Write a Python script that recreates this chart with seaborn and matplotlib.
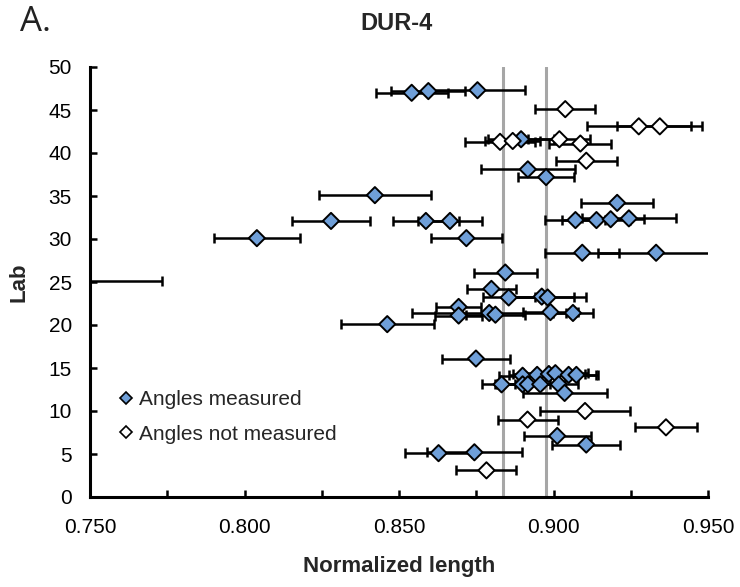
import numpy as np
import pandas as pd
import matplotlib
matplotlib.use("Agg")
import matplotlib.pyplot as plt
import seaborn as sns

# ---- data ----
meas_x = [0.8541, 0.8595, 0.8754, 0.8895, 0.8917, 0.8976, 0.8422, 0.9206,
          0.8280, 0.8587, 0.8665, 0.9071, 0.9139, 0.9185, 0.9244, 0.8718,
          0.8040, 0.9093, 0.9332, 0.8844, 0.7200, 0.8799, 0.8855, 0.8962,
          0.8981, 0.8693, 0.8693, 0.8792, 0.8812, 0.8990, 0.9063, 0.8462,
          0.8749, 0.8900, 0.8947, 0.8985, 0.9006, 0.9049, 0.9074, 0.8832,
          0.8900, 0.8917, 0.8957, 0.9017, 0.9036, 0.9012, 0.9106, 0.8628,
          0.8744]
meas_y = [47.0, 47.2, 47.3, 41.6, 38.1, 37.2, 35.1, 34.2,
          32.1, 32.1, 32.1, 32.2, 32.2, 32.3, 32.4, 30.1,
          30.1, 28.4, 28.4, 26.1, 25.1, 24.2, 23.2, 23.3,
          23.2, 22.1, 21.1, 21.4, 21.2, 21.5, 21.4, 20.1,
          16.1, 14.1, 14.2, 14.3, 14.4, 14.2, 14.2, 13.1,
          13.1, 13.1, 13.1, 13.1, 12.1, 7.1, 6.1, 5.1,
          5.2]
meas_err = [0.0117, 0.0120, 0.0154, 0.0108, 0.0152, 0.0091, 0.0180, 0.0116,
            0.0125, 0.0106, 0.0104, 0.0097, 0.0110, 0.0107, 0.0151, 0.0115,
            0.0140, 0.0119, 0.0188, 0.0102, 0.0534, 0.0079, 0.0084, 0.0104,
            0.0125, 0.0072, 0.0076, 0.0249, 0.0095, 0.0088, 0.0065, 0.0151,
            0.0110, 0.0075, 0.0090, 0.0116, 0.0105, 0.0095, 0.0065, 0.0065,
            0.0090, 0.0100, 0.0080, 0.0062, 0.0136, 0.0108, 0.0110, 0.0109,
            0.0155]

notm_x = [0.9038, 0.9276, 0.9344, 0.8827, 0.8868, 0.9019, 0.9087, 0.9106,
          0.9102, 0.8916, 0.9364, 0.8783]
notm_y = [45.1, 43.1, 43.1, 41.3, 41.4, 41.6, 41.1, 39.1,
          10.0, 9.0, 8.1, 3.1]
notm_err = [0.0097, 0.0169, 0.0137, 0.0113, 0.0089, 0.0100, 0.0100, 0.0098,
            0.0146, 0.0097, 0.0100, 0.0097]

ref_lines = [0.8835, 0.8976]
x_ticks = [0.750, 0.800, 0.850, 0.900, 0.950]
y_ticks = [0, 5, 10, 15, 20, 25, 30, 35, 40, 45, 50]
labels = ["Angles measured", "Angles not measured"]

df = pd.DataFrame({
    "x": meas_x + notm_x,
    "y": meas_y + notm_y,
    "err": meas_err + notm_err,
    "group": [labels[0]] * len(meas_x) + [labels[1]] * len(notm_x),
})

sns.set_style("white")
plt.rcParams["font.family"] = ["Liberation Sans", "DejaVu Sans"]

fig = plt.figure(figsize=(7.40, 5.87), dpi=100)
ax = fig.add_axes([90 / 740, 90 / 587, 618 / 740, 430 / 587])

for xv in ref_lines:
    ax.axvline(xv, color="#a6a6a6", lw=2.2, zorder=1)

ax.errorbar(df["x"], df["y"], xerr=df["err"], fmt="none", ecolor="black",
            elinewidth=1.8, capsize=3.8, capthick=1.8, zorder=2)

palette = {labels[0]: "#6f9fd8", labels[1]: "white"}
sns.scatterplot(data=df, x="x", y="y", hue="group", palette=palette,
                marker="D", s=68, edgecolor="black", linewidth=1.4,
                zorder=3, ax=ax, legend=True)

ax.set_xlim(0.75, 0.95)
ax.set_ylim(0, 50)
ax.set_xticks(x_ticks)
ax.set_xticklabels([f"{v:.3f}" for v in x_ticks])
ax.set_xticks([0.775, 0.825, 0.875, 0.925], minor=True)
ax.set_yticks(y_ticks)
ax.tick_params(axis="both", which="both", direction="in", length=5, width=1.8,
               labelsize=15, colors="black", bottom=True, left=True)
ax.tick_params(axis="x", pad=15)
ax.tick_params(axis="y", pad=13)
for s in ["top", "right"]:
    ax.spines[s].set_visible(False)
for s in ["left", "bottom"]:
    ax.spines[s].set_linewidth(2.2)
    ax.spines[s].set_color("black")

ax.set_xlabel("Normalized length", fontsize=16, fontweight="bold", labelpad=14)
ax.set_ylabel("Lab", fontsize=16, fontweight="bold", labelpad=14)
fig.text(396 / 740, 1 - 24 / 587, "DUR-4", ha="center", va="center",
         fontsize=17, fontweight="bold")
fig.text(20 / 740, 1 - 22 / 587, "A.", ha="left", va="center",
         fontsize=25, family=["Open Sans", "DejaVu Sans"], color="#222222")

leg = ax.legend(loc="lower left", bbox_to_anchor=(0.025, 0.105), frameon=False,
                fontsize=15, handletextpad=0.0, labelspacing=0.75,
                borderaxespad=0, handlelength=1.2)
for h in leg.legend_handles:
    if hasattr(h, "set_markersize"):
        h.set_markersize(6.5)
        h.set_markeredgecolor("black")
        h.set_markeredgewidth(1.2)
    elif hasattr(h, "set_sizes"):
        h.set_sizes([45])
        h.set_edgecolor("black")

fig.savefig("out.png", dpi=100)
